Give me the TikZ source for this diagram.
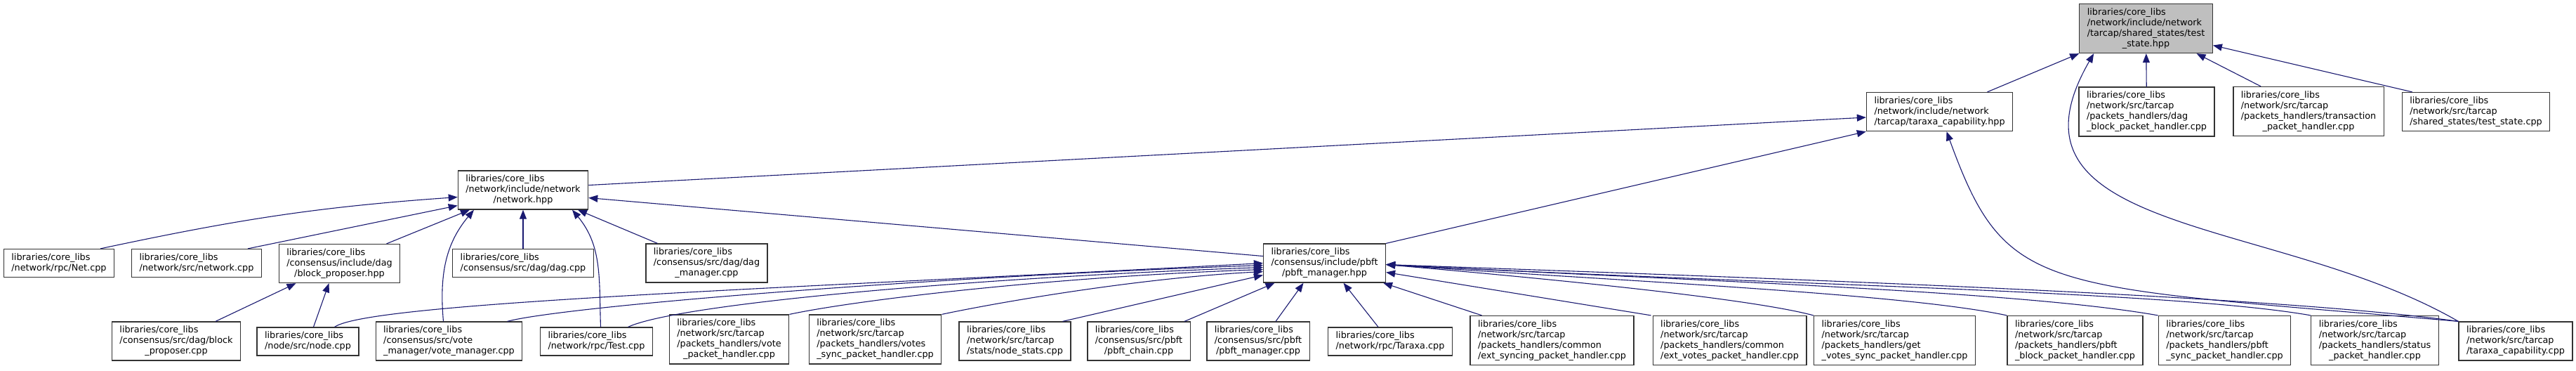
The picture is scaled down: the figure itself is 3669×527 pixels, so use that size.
\documentclass[tikz,border=0pt]{standalone}
\usepackage{fontspec}
\setmainfont{DejaVu Sans}
\usetikzlibrary{arrows.meta,calc}

\definecolor{edgeblue}{HTML}{191970}
\definecolor{rootgray}{HTML}{BFBFBF}
% every line is left-set, the last one is centred
\newcommand{\flab}[2]{\begin{tabular}{@{}l@{}}#1\\\multicolumn{1}{@{}c@{}}{#2}\end{tabular}}

\begin{document}
\begin{tikzpicture}[x=0.1pt, y=0.1pt,
  file/.style  = {draw=black!80, line width=0.13pt, fill=white,
                  inner xsep=1.1pt, inner ysep=0.5pt,
                  font=\fontsize{1.28}{1.5}\selectfont},
  root/.style  = {file, fill=rootgray},   % the header whose includers are shown
  dep/.style   = {edgeblue, line width=0.11pt,
                  -{Triangle[length=1.3pt,width=1pt]}},
]
  \useasboundingbox (0,0) rectangle (3669,-527);

  \node[root] (top) at (3056.5,-40.5) {\flab{libraries/core\_libs\\/network/include/network\\/tarcap/shared\_states/test}{\_state.hpp}};

  \node[file] (tcap)   at (2762.5,-159)  {\flab{libraries/core\_libs\\/network/include/network}{/tarcap/taraxa\_capability.hpp}};
  \node[file] (dagblk) at (3057.5,-159)  {\flab{libraries/core\_libs\\/network/src/tarcap\\/packets\_handlers/dag}{\_block\_packet\_handler.cpp}};
  \node[file] (txpkt)  at (3288,-158.5)  {\flab{libraries/core\_libs\\/network/src/tarcap\\/packets\_handlers/transaction}{\_packet\_handler.cpp}};
  \node[file] (tstate) at (3526.5,-159)  {\flab{libraries/core\_libs\\/network/src/tarcap}{/shared\_states/test\_state.cpp}};

  \node[file] (net)    at (745,-270.5)   {\flab{libraries/core\_libs\\/network/include/network}{/network.hpp}};

  \node[file] (netrpc) at (84,-374.5)    {\flab{libraries/core\_libs}{/network/rpc/Net.cpp}};
  \node[file] (netsrc) at (280,-374.5)   {\flab{libraries/core\_libs}{/network/src/network.cpp}};
  \node[file] (bprop)  at (483.5,-375)   {\flab{libraries/core\_libs\\/consensus/include/dag}{/block\_proposer.hpp}};
  \node[file] (dag)    at (745,-374.5)   {\flab{libraries/core\_libs}{/consensus/src/dag/dag.cpp}};
  \node[file] (dagmgr) at (1006.5,-374.5) {\flab{libraries/core\_libs\\/consensus/src/dag/dag}{\_manager.cpp}};
  \node[file] (pbft)   at (1886.5,-374.5) {\flab{libraries/core\_libs\\/consensus/include/pbft}{/pbft\_manager.hpp}};

  \node[file] (bpropcpp) at (251,-485.5)  {\flab{libraries/core\_libs\\/consensus/src/dag/block}{\_proposer.cpp}};
  \node[file] (nodecpp)  at (438.5,-486)  {\flab{libraries/core\_libs}{/node/src/node.cpp}};
  \node[file] (votemgr)  at (639.5,-485.5) {\flab{libraries/core\_libs\\/consensus/src/vote}{\_manager/vote\_manager.cpp}};
  \node[file] (testrpc)  at (849.5,-486)  {\flab{libraries/core\_libs}{/network/rpc/Test.cpp}};
  \node[file] (votepkt)  at (1038.5,-483) {\flab{libraries/core\_libs\\/network/src/tarcap\\/packets\_handlers/vote}{\_packet\_handler.cpp}};
  \node[file] (votesync) at (1246.5,-483) {\flab{libraries/core\_libs\\/network/src/tarcap\\/packets\_handlers/votes}{\_sync\_packet\_handler.cpp}};
  \node[file] (nstats)   at (1445.5,-485.5) {\flab{libraries/core\_libs\\/network/src/tarcap}{/stats/node\_stats.cpp}};
  \node[file] (pchain)   at (1622,-485.5) {\flab{libraries/core\_libs\\/consensus/src/pbft}{/pbft\_chain.cpp}};
  \node[file] (pmgr)     at (1792,-485.5) {\flab{libraries/core\_libs\\/consensus/src/pbft}{/pbft\_manager.cpp}};
  \node[file] (taraxa)   at (1980,-486)   {\flab{libraries/core\_libs}{/network/rpc/Taraxa.cpp}};
  \node[file] (extsync)  at (2210.5,-484.5) {\flab{libraries/core\_libs\\/network/src/tarcap\\/packets\_handlers/common}{/ext\_syncing\_packet\_handler.cpp}};
  \node[file] (extvotes) at (2463.5,-484.5) {\flab{libraries/core\_libs\\/network/src/tarcap\\/packets\_handlers/common}{/ext\_votes\_packet\_handler.cpp}};
  \node[file] (getvotes) at (2698.5,-484.5) {\flab{libraries/core\_libs\\/network/src/tarcap\\/packets\_handlers/get}{\_votes\_sync\_packet\_handler.cpp}};
  \node[file] (pblock)   at (2955.5,-484.5) {\flab{libraries/core\_libs\\/network/src/tarcap\\/packets\_handlers/pbft}{\_block\_packet\_handler.cpp}};
  \node[file] (psync)    at (3168.5,-484.5) {\flab{libraries/core\_libs\\/network/src/tarcap\\/packets\_handlers/pbft}{\_sync\_packet\_handler.cpp}};
  \node[file] (status)   at (3382.5,-484.5) {\flab{libraries/core\_libs\\/network/src/tarcap\\/packets\_handlers/status}{\_packet\_handler.cpp}};
  \node[file] (tcapcpp)  at (3583,-485.5)   {\flab{libraries/core\_libs\\/network/src/tarcap}{/taraxa\_capability.cpp}};

  % includers of the root
  \draw[dep] ($(tcap.north)+(68,0)$) -- (top.south west);
  \draw[dep] (tcapcpp.north west) to[out=150,in=-120,out distance=30pt,in distance=30pt] ($(top.south west)+(21,0)$);
  \draw[dep] (dagblk) -- (top);
  \draw[dep] ($(txpkt.north)+(-68,0)$) -- ($(top.south)+(72,0)$);
  \draw[dep] ($(tstate.north west)+(15,0)$) -- ($(top.east)+(0,-24)$);

  % taraxa_capability.hpp
  \draw[dep] ($(net.east)+(0,7)$) -- ($(tcap.west)+(0,-8)$);
  \draw[dep] (pbft.north east) -- (tcap.south west);
  \draw[dep] (tcapcpp.north west) to[out=175,in=-70,out distance=60pt,in distance=25pt] ($(tcap.south)+(10,0)$);

  % network.hpp
  \draw[dep] ($(netrpc.north)+(59,0)$) to[out=12,in=-176] ($(net.west)+(0,-10)$);
  \draw[dep] ($(netsrc.north)+(73,0)$) -- ($(net.west)+(0,-22)$);
  \draw[dep] ($(bprop.north)+(67,0)$) -- ($(net.south)+(-76,0)$);
  \draw[dep] ($(votemgr.north)+(-8,0)$) to[out=95,in=-130] ($(net.south)+(-70,0)$);
  \draw[dep] (dag) -- (net);
  \draw[dep] ($(testrpc.north)+(6,0)$) to[out=92,in=-50] ($(net.south)+(70,0)$);
  \draw[dep] ($(dagmgr.north)+(-70,0)$) -- ($(net.south)+(78,0)$);
  \draw[dep] ($(pbft.west)+(0,10)$) -- ($(net.east)+(0,-11)$);

  % block_proposer.hpp
  \draw[dep] ($(bpropcpp.north)+(56,0)$) -- ($(bprop.south)+(-62,0)$);
  \draw[dep] ($(nodecpp.north)+(8,0)$) -- ($(bprop.south)+(-15,0)$);

  % pbft_manager.hpp
  \draw[dep] ($(nodecpp.north)+(38,0)$) to[out=35,in=183,out distance=6pt,in distance=70pt] (pbft.west);
  \draw[dep] ($(votemgr.north)+(83,0)$) to[out=15,in=182,out distance=8pt,in distance=50pt] ($(pbft.west)+(0,-3)$);
  \draw[dep] ($(testrpc.north)+(45,0)$) to[out=25,in=182,out distance=8pt,in distance=40pt] ($(pbft.west)+(0,-6)$);
  \draw[dep] (votepkt.north east) to[out=12,in=182,out distance=10pt,in distance=30pt] ($(pbft.west)+(0,-9)$);
  \draw[dep] (votesync.north east) to[out=12,in=183,out distance=8pt,in distance=18pt] ($(pbft.west)+(0,-12)$);
  \draw[dep] ($(nstats.north)+(68,0)$) -- ($(pbft.west)+(0,-17)$);
  \draw[dep] ($(pchain.north)+(65,0)$) -- ($(pbft.south)+(-71,0)$);
  \draw[dep] ($(pmgr.north)+(25,0)$) -- ($(pbft.south)+(-30,0)$);
  \draw[dep] ($(taraxa.north)+(-17,0)$) -- ($(pbft.south)+(27,0)$);
  \draw[dep] ($(extsync.north)+(-100,0)$) -- ($(pbft.south east)+(-4,0)$);
  \draw[dep] ($(extvotes.north)+(-112,0)$) -- ($(pbft.east)+(0,-13)$);
  \draw[dep] (getvotes.north west) to[out=165,in=-5,out distance=10pt,in distance=20pt] ($(pbft.east)+(0,-2)$);
  \draw[dep] (pblock.north west) to[out=168,in=-4,out distance=15pt,in distance=35pt] ($(pbft.east)+(0,-2)$);
  \draw[dep] (psync.north west) to[out=170,in=-3,out distance=20pt,in distance=45pt] ($(pbft.east)+(0,-2)$);
  \draw[dep] (status.north west) to[out=170,in=-3,out distance=20pt,in distance=55pt] ($(pbft.east)+(0,-2)$);
  \draw[dep] (tcapcpp.north west) to[out=172,in=-2,out distance=25pt,in distance=65pt] ($(pbft.east)+(0,-2)$);
\end{tikzpicture}
\end{document}
